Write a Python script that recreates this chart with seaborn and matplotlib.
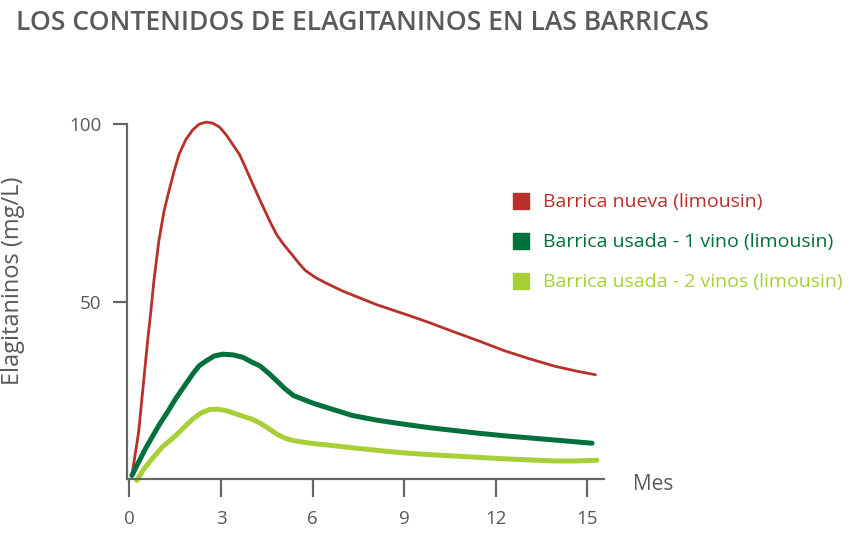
import pandas as pd
import matplotlib.pyplot as plt
import seaborn as sns
from matplotlib.lines import Line2D

# Values (months, mg/L)
nueva_x = [0.08, 0.3, 0.46, 0.6, 0.69, 0.8, 0.96, 1.13, 1.29, 1.46, 1.62, 1.84, 2.07,
           2.28, 2.51, 2.73, 2.95, 3.17, 3.39, 3.61, 3.83, 4.05, 4.27, 4.6, 4.82,
           5.05, 5.32, 5.55, 5.76, 6.09, 6.42, 6.98, 7.53, 8.08, 8.63, 9.19, 9.85,
           10.62, 11.45, 12.27, 13.1, 13.93, 14.6, 15.26]
nueva_y = [1.0, 13.2, 27.2, 39.4, 46.4, 55.8, 67.0, 75.4, 81.1, 86.7, 91.4, 95.6, 98.4,
           100.0, 100.6, 100.3, 99.2, 97.0, 94.2, 91.4, 87.2, 82.9, 78.7, 72.6, 68.9,
           66.1, 63.3, 60.8, 58.8, 56.8, 55.3, 53.0, 51.1, 49.2, 47.6, 46.0, 44.0,
           41.5, 38.9, 36.2, 33.9, 31.8, 30.5, 29.4]

usada1_x = [0.08, 0.3, 0.52, 0.74, 0.96, 1.24, 1.51, 1.79, 2.07, 2.28, 2.51, 2.78,
            3.06, 3.39, 3.72, 4.0, 4.27, 4.55, 4.82, 5.1, 5.38, 5.71, 6.04, 6.48,
            7.31, 8.1, 8.96, 9.8, 10.62, 11.45, 12.27, 13.1, 13.93, 15.15]
usada1_y = [1.0, 4.8, 8.5, 11.8, 15.1, 18.8, 22.6, 26.1, 29.6, 31.9, 33.3, 34.7,
            35.2, 35.0, 34.3, 33.0, 31.9, 29.9, 27.7, 25.4, 23.5, 22.4, 21.3, 20.1,
            17.9, 16.6, 15.5, 14.5, 13.7, 12.9, 12.2, 11.6, 11.0, 10.1]

usada2_x = [0.24, 0.46, 0.74, 1.07, 1.51, 1.79, 2.07, 2.34, 2.62, 2.89, 3.17, 3.44,
            3.72, 4.0, 4.27, 4.55, 4.82, 5.1, 5.38, 5.93, 6.48, 7.31, 8.1, 8.96,
            9.8, 10.62, 11.45, 12.27, 13.1, 13.93, 14.6, 15.31]
usada2_y = [-0.4, 2.7, 5.7, 9.0, 12.2, 14.6, 16.9, 18.6, 19.6, 19.7, 19.3, 18.5,
            17.7, 16.9, 15.8, 14.3, 12.7, 11.5, 10.8, 10.1, 9.6, 8.8, 8.1, 7.4,
            6.9, 6.5, 6.1, 5.7, 5.4, 5.1, 5.1, 5.3]

series_names = ["Barrica nueva (limousin)", "Barrica usada - 1 vino (limousin)",
                "Barrica usada - 2 vinos (limousin)"]
colors = ["#B83029", "#00703C", "#A9CF38"]
x_ticks = [0, 3, 6, 9, 12, 15]
y_ticks = [50, 100]

df = pd.concat([
    pd.DataFrame({"Mes": nueva_x, "Valor": nueva_y, "Serie": series_names[0]}),
    pd.DataFrame({"Mes": usada1_x, "Valor": usada1_y, "Serie": series_names[1]}),
    pd.DataFrame({"Mes": usada2_x, "Valor": usada2_y, "Serie": series_names[2]}),
])

sns.set_style("white")
plt.rcParams["font.family"] = ["Open Sans", "DejaVu Sans"]

grey = "#666666"
text_grey = "#595959"

fig = plt.figure(figsize=(8.62, 5.45), dpi=100)
ax = fig.add_axes([0.147, 0.121, 0.554, 0.651])

widths = [2.0, 3.6, 3.6]
for name, col, lw in zip(series_names, colors, widths):
    sns.lineplot(data=df[df["Serie"] == name], x="Mes", y="Valor", color=col,
                 linewidth=lw, sort=False, estimator=None, ax=ax, clip_on=False,
                 legend=False)
for line in ax.lines:
    line.set_solid_joinstyle("round")

ax.set_xlim(-0.09, 15.55)
ax.set_ylim(0, 100)
ax.set_xticks(x_ticks)
ax.set_yticks(y_ticks)
ax.set_xlabel("")
ax.set_ylabel("Elagitaninos (mg/L)", fontsize=17, color=text_grey)
ax.yaxis.set_label_coords(-0.213, 0.56)

for side in ["top", "right"]:
    ax.spines[side].set_visible(False)
for side in ["left", "bottom"]:
    ax.spines[side].set_color(grey)
    ax.spines[side].set_linewidth(1.6)

ax.tick_params(axis="x", length=13, width=1.6, color=grey, pad=9,
               labelsize=13.5, labelcolor=text_grey, direction="out", bottom=True)
ax.tick_params(axis="y", length=10, width=1.6, color=grey, pad=8,
               labelsize=13.5, labelcolor=text_grey, direction="out", left=True)

ax.text(1.06, -0.015, "Mes", transform=ax.transAxes, fontsize=15,
        color=text_grey, ha="left", va="center")

fig.text(0.019, 0.958, "LOS CONTENIDOS DE ELAGITANINOS EN LAS BARRICAS",
         fontsize=19.1, fontweight="semibold", color="#5a5a5a", ha="left", va="center")

handles = [Line2D([], [], ls="", marker="s", markersize=11, color=c) for c in colors]
fig.legend(handles, series_names, loc="upper left",
           bbox_to_anchor=(0.593, 0.645), frameon=False, fontsize=14,
           labelcolor=colors, handlelength=1.0, handletextpad=0.65,
           labelspacing=1.13, borderpad=0, borderaxespad=0)

plt.savefig("out.png", dpi=100)
